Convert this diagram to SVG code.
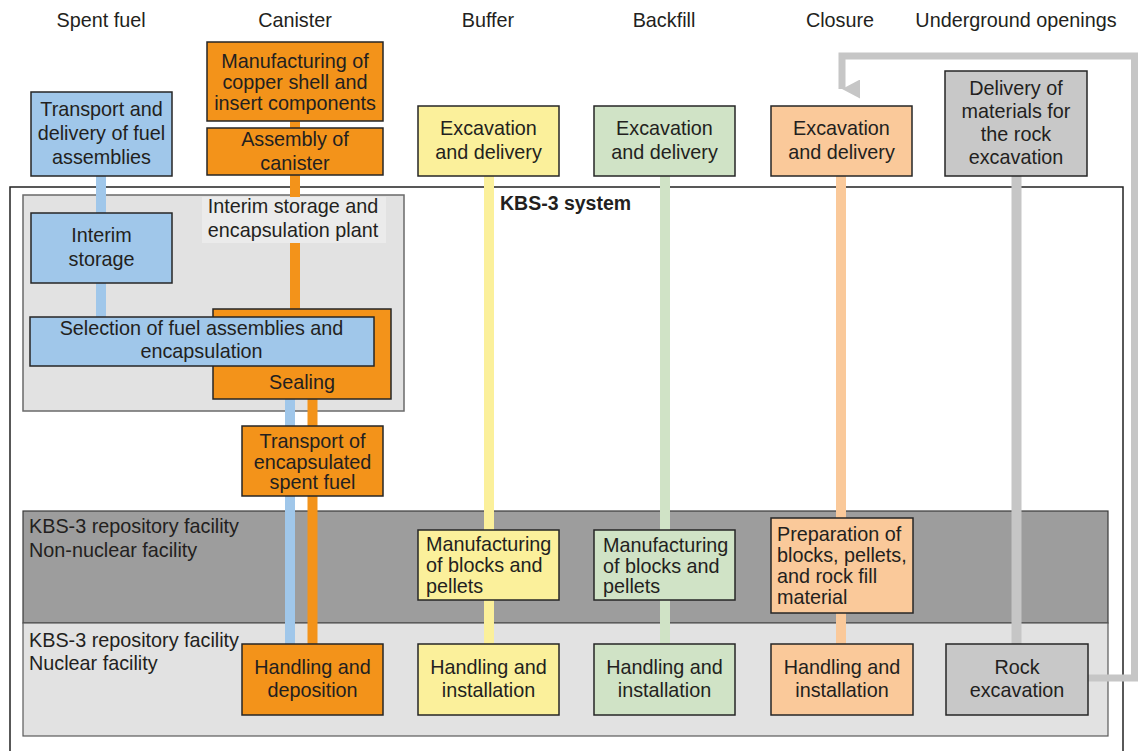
<svg xmlns="http://www.w3.org/2000/svg" width="1138" height="751" viewBox="0 0 1138 751">
<defs>
<style>
text{font-family:"Liberation Sans",Arial,Helvetica,sans-serif;fill:#231f20;font-size:19.8px}
.c{text-anchor:middle}
.t{text-anchor:middle}
.band{font-size:19.8px}
.bold{font-weight:bold;font-size:19.5px}
.box{stroke:#262626;stroke-width:1.5}
.blue{fill:#a0c7ea}
.orange{fill:#f3931a}
.yellow{fill:#fbf09b}
.green{fill:#d0e3c6}
.peach{fill:#fac99a}
.gray{fill:#c8c8c8}
.ln{fill:none;stroke-width:10}
</style>
<marker id="arr" markerWidth="19" markerHeight="18" refX="9.5" refY="18" orient="auto" markerUnits="userSpaceOnUse" viewBox="0 0 19 18">
<path d="M0,0 L19,0 L9.5,18 Z" fill="#c6c6c6"/>
</marker>
</defs>
<rect width="1138" height="751" fill="#ffffff"/>

<g id="titles">
<text class="t" x="101" y="27">Spent fuel</text>
<text class="t" x="295" y="27">Canister</text>
<text class="t" x="488" y="27">Buffer</text>
<text class="t" x="664" y="27">Backfill</text>
<text class="t" x="840" y="27">Closure</text>
<text class="t" x="1016" y="27">Underground openings</text>
</g>

<g id="kbs3-system">
<rect x="10" y="187" width="1113" height="580" fill="none" stroke="#222" stroke-width="1.5"/>
<text class="bold" x="500" y="210">KBS-3 system</text>
</g>

<g id="plant">
<rect x="23" y="195" width="381" height="216" fill="#e2e2e2" stroke="#6a6a6a" stroke-width="1.5"/>
</g>

<g id="band-non-nuclear">
<rect x="23" y="511" width="1085" height="112" fill="#9d9d9d" stroke="#3a3a3a" stroke-width="1.2"/>
<text class="band" x="29" y="533">KBS-3 repository facility</text>
<text class="band" x="29" y="557">Non-nuclear facility</text>
</g>
<g id="band-nuclear">
<rect x="23" y="623" width="1085" height="113" fill="#e2e2e2" stroke="#5a5a5a" stroke-width="1.2"/>
<text class="band" x="29" y="647">KBS-3 repository facility</text>
<text class="band" x="29" y="670">Nuclear facility</text>
</g>

<g id="connectors">
<path class="ln" stroke="#a0c7ea" d="M101,176 V213 M101,283 V317 M290,366 V644"/>
<path class="ln" stroke="#f3931a" d="M295,121 V128 M295,175 V309 M312.5,399 V644"/>
<path class="ln" stroke="#fbf09b" d="M489,176 V644"/>
<path class="ln" stroke="#d0e3c6" d="M665,176 V644"/>
<path class="ln" stroke="#fac99a" d="M841,176 V644"/>
<path class="ln" stroke="#c6c6c6" stroke-width="9" d="M1016.5,176 V644"/>
<path fill="none" stroke="#c6c6c6" stroke-width="7" d="M1088,678 H1134.5 V56 H842 V89" marker-end="url(#arr)"/>
</g>

<g id="plant-label">
<rect x="202" y="197" width="184" height="46" fill="#ebebeb"/>
<text class="c" x="293" y="213">Interim storage and</text>
<text class="c" x="293" y="237">encapsulation plant</text>
</g>

<g id="sf-transport">
<rect class="box blue" x="31" y="92" width="141" height="84"/>
<text class="c" x="101.5" y="116">Transport and</text>
<text class="c" x="101.5" y="140">delivery of fuel</text>
<text class="c" x="101.5" y="164">assemblies</text>
</g>
<g id="can-manufacturing">
<rect class="box orange" x="207" y="42" width="176" height="79"/>
<text class="c" x="295" y="67.5">Manufacturing of</text>
<text class="c" x="295" y="88.5">copper shell and</text>
<text class="c" x="295" y="109.5">insert components</text>
</g>
<g id="can-assembly">
<rect class="box orange" x="207" y="128" width="176" height="47"/>
<text class="c" x="295" y="146">Assembly of</text>
<text class="c" x="295" y="170">canister</text>
</g>
<g id="interim-storage">
<rect class="box blue" x="31" y="213" width="141" height="70"/>
<text class="c" x="101.5" y="242">Interim</text>
<text class="c" x="101.5" y="266">storage</text>
</g>
<g id="sealing">
<rect class="box orange" x="213" y="309" width="178" height="90"/>
<text class="c" x="302" y="389">Sealing</text>
</g>
<g id="selection">
<rect class="box blue" x="30" y="317" width="344" height="49"/>
<text class="c" x="201.5" y="335">Selection of fuel assemblies and</text>
<text class="c" x="201.5" y="358">encapsulation</text>
</g>
<g id="can-transport">
<rect class="box orange" x="242" y="426" width="141" height="70"/>
<text class="c" x="312.5" y="448">Transport of</text>
<text class="c" x="312.5" y="469">encapsulated</text>
<text class="c" x="312.5" y="489">spent fuel</text>
</g>
<g id="can-handling">
<rect class="box orange" x="242" y="644" width="141" height="71"/>
<text class="c" x="312.5" y="674">Handling and</text>
<text class="c" x="312.5" y="697">deposition</text>
</g>

<g id="buf-excavation">
<rect class="box yellow" x="418" y="106" width="141" height="70"/>
<text class="c" x="488.5" y="135">Excavation</text>
<text class="c" x="488.5" y="159">and delivery</text>
</g>
<g id="buf-manufacturing">
<rect class="box yellow" x="418" y="530" width="141" height="70"/>
<text x="426" y="551">Manufacturing</text>
<text x="426" y="572">of blocks and</text>
<text x="426" y="593">pellets</text>
</g>
<g id="buf-handling">
<rect class="box yellow" x="418" y="644" width="141" height="71"/>
<text class="c" x="488.5" y="674">Handling and</text>
<text class="c" x="488.5" y="697">installation</text>
</g>

<g id="bf-excavation">
<rect class="box green" x="594" y="106" width="141" height="70"/>
<text class="c" x="664.5" y="135">Excavation</text>
<text class="c" x="664.5" y="159">and delivery</text>
</g>
<g id="bf-manufacturing">
<rect class="box green" x="594" y="530" width="141" height="70"/>
<text x="603" y="552">Manufacturing</text>
<text x="603" y="573">of blocks and</text>
<text x="603" y="593">pellets</text>
</g>
<g id="bf-handling">
<rect class="box green" x="594" y="644" width="141" height="71"/>
<text class="c" x="664.5" y="674">Handling and</text>
<text class="c" x="664.5" y="697">installation</text>
</g>

<g id="cl-excavation">
<rect class="box peach" x="771" y="106" width="141" height="70"/>
<text class="c" x="841.5" y="135">Excavation</text>
<text class="c" x="841.5" y="159">and delivery</text>
</g>
<g id="cl-preparation">
<rect class="box peach" x="771" y="518" width="142" height="95"/>
<text x="777" y="541">Preparation of</text>
<text x="777" y="562">blocks, pellets,</text>
<text x="777" y="583">and rock fill</text>
<text x="777" y="604">material</text>
</g>
<g id="cl-handling">
<rect class="box peach" x="771" y="644" width="142" height="71"/>
<text class="c" x="842" y="674">Handling and</text>
<text class="c" x="842" y="697">installation</text>
</g>

<g id="uo-delivery">
<rect class="box gray" x="945" y="71" width="142" height="105"/>
<text class="c" x="1016" y="95">Delivery of</text>
<text class="c" x="1016" y="118">materials for</text>
<text class="c" x="1016" y="141">the rock</text>
<text class="c" x="1016" y="164">excavation</text>
</g>
<g id="uo-rock">
<rect class="box gray" x="946" y="644" width="142" height="71"/>
<text class="c" x="1017" y="674">Rock</text>
<text class="c" x="1017" y="697">excavation</text>
</g>
</svg>
